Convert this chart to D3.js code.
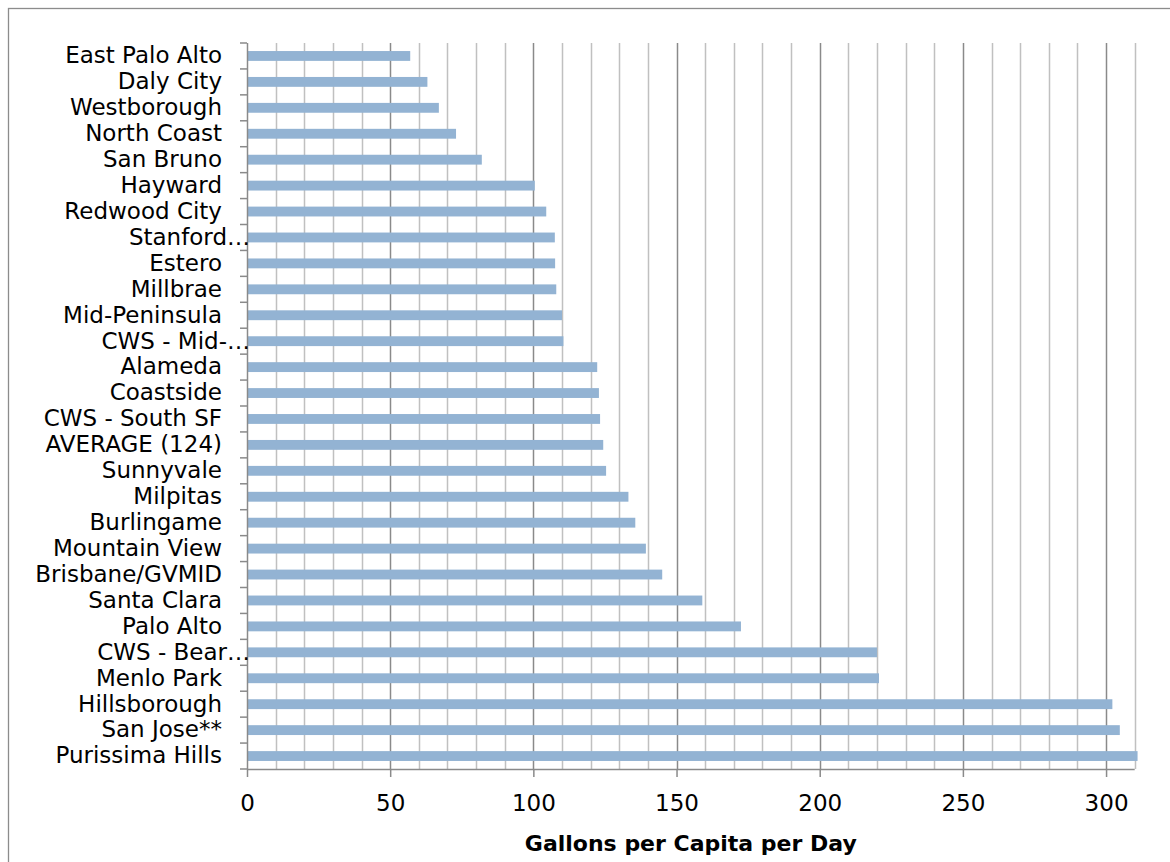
<!DOCTYPE html>
<html>
<head>
<meta charset="utf-8">
<script src="https://cdn.jsdelivr.net/npm/d3@7"></script>
<style>
  html, body { margin: 0; padding: 0; background: #fff; }
  svg { display: block; }
  text { font-family: "DejaVu Sans", sans-serif; fill: #000; }
</style>
</head>
<body>
<svg id="chart" width="1170" height="862"></svg>
<script>
const categories = [
  "East Palo Alto", "Daly City", "Westborough", "North Coast", "San Bruno",
  "Hayward", "Redwood City", "Stanford…", "Estero", "Millbrae",
  "Mid-Peninsula", "CWS - Mid-…", "Alameda", "Coastside", "CWS - South SF",
  "AVERAGE (124)", "Sunnyvale", "Milpitas", "Burlingame", "Mountain View",
  "Brisbane/GVMID", "Santa Clara", "Palo Alto", "CWS - Bear…", "Menlo Park",
  "Hillsborough", "San Jose**", "Purissima Hills"
];
const values = [
  57, 63, 67, 73, 82,
  100.5, 104.5, 107.5, 107.6, 108,
  110, 110.5, 122.3, 122.9, 123.3,
  124.4, 125.4, 133.2, 135.6, 139.3,
  145, 159, 172.5, 220, 220.7,
  302.2, 304.8, 311
];
const xTickValues = [0, 50, 100, 150, 200, 250, 300];
const xMinorValues = d3.range(10, 311, 10);
const xTitle = "Gallons per Capita per Day";

const svg = d3.select("#chart");
const plot = { left: 247, right: 1134.7, top: 43, bottom: 769 };

// outer border
svg.append("rect")
  .attr("x", 8.5).attr("y", 8.5)
  .attr("width", 1200).attr("height", 900)
  .attr("fill", "none").attr("stroke", "#8c8c8c").attr("stroke-width", 1.3);

const x = d3.scaleLinear().domain([0, 310]).range([plot.left, plot.right]);
const y = d3.scaleBand().domain(categories).range([plot.top, plot.bottom]).paddingInner(0.62).paddingOuter(0.31);

// minor gridlines
svg.append("g").selectAll("line")
  .data(xMinorValues.filter(v => v % 50 !== 0))
  .join("line")
  .attr("x1", d => Math.round(x(d)) + 0.5).attr("x2", d => Math.round(x(d)) + 0.5)
  .attr("y1", plot.top).attr("y2", plot.bottom)
  .attr("stroke", "#c0c0c0").attr("stroke-width", 1.5);

// major gridlines
svg.append("g").selectAll("line")
  .data(xTickValues.filter(v => v > 0))
  .join("line")
  .attr("x1", d => Math.round(x(d)) + 0.5).attr("x2", d => Math.round(x(d)) + 0.5)
  .attr("y1", plot.top).attr("y2", plot.bottom)
  .attr("stroke", "#8a8a8a").attr("stroke-width", 1.5);

// bars
svg.append("g").selectAll("rect")
  .data(categories)
  .join("rect")
  .attr("x", x(0))
  .attr("y", d => y(d))
  .attr("width", (d, i) => x(values[i]) - x(0))
  .attr("height", y.bandwidth())
  .attr("fill", "#93b3d3");

// x axis
const xAxis = d3.axisBottom(x).tickValues(xTickValues).tickSize(8).tickPadding(18).tickFormat(d3.format("d"));
const gx = svg.append("g").attr("transform", `translate(0,${plot.bottom})`).call(xAxis);
gx.select(".domain").attr("stroke", "#8a8a8a").attr("stroke-width", 1.5)
  .attr("d", `M${plot.left},0.5H${plot.right}`);
gx.selectAll(".tick line").attr("stroke", "#8a8a8a").attr("stroke-width", 1.5);
gx.selectAll(".tick text").style("font-size", "23px").attr("fill", "#000");

// y axis
const yAxis = d3.axisLeft(y).tickSize(0).tickPadding(25);
const gy = svg.append("g").attr("transform", `translate(${plot.left},0)`).call(yAxis);
gy.select(".domain").attr("stroke", "#8a8a8a").attr("stroke-width", 1.5)
  .attr("d", `M0.5,${plot.top}V${plot.bottom}`);
gy.selectAll(".tick text").style("font-size", "23px").attr("fill", "#000")
  .attr("x", d => d.endsWith("…") ? 3 : -25);

// y category boundary ticks
const step = (plot.bottom - plot.top) / categories.length;
svg.append("g").selectAll("line")
  .data(d3.range(categories.length + 1))
  .join("line")
  .attr("x1", plot.left - 7).attr("x2", plot.left)
  .attr("y1", i => plot.top + i * step).attr("y2", i => plot.top + i * step)
  .attr("stroke", "#8a8a8a").attr("stroke-width", 1.5);

// x title
svg.append("text")
  .attr("x", (plot.left + plot.right) / 2)
  .attr("y", 851)
  .attr("text-anchor", "middle")
  .style("font-size", "22px").style("font-weight", "bold")
  .text(xTitle);
</script>
</body>
</html>
